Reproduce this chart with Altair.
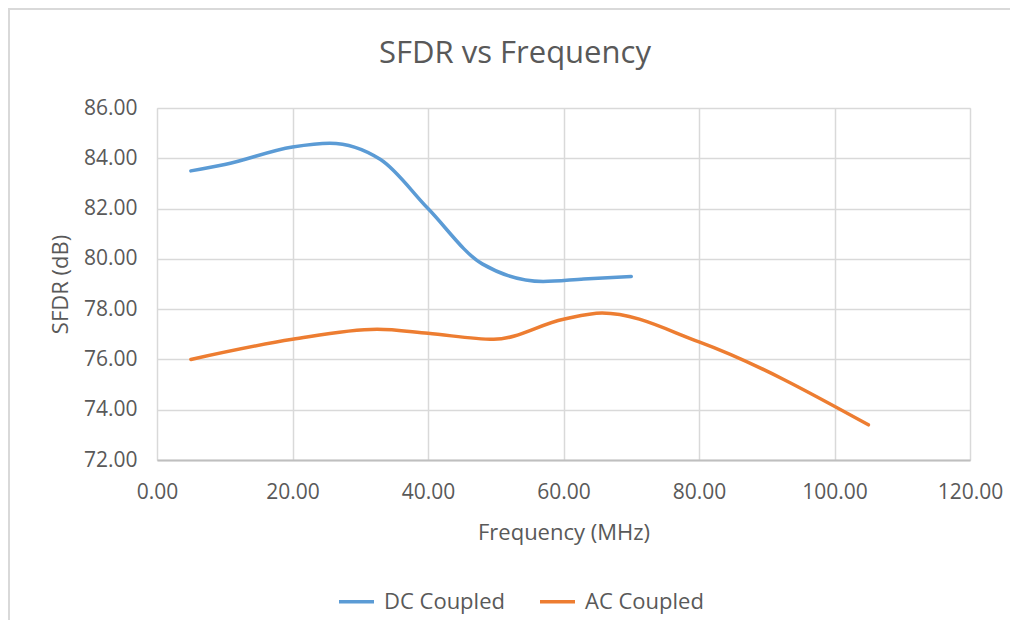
import altair as alt
import pandas as pd

# DC Coupled series (frequency MHz, SFDR dB)
dc_freq = [5, 10, 20, 25.5, 33, 40, 48, 57, 63, 70]
dc_sfdr = [83.5, 83.75, 84.45, 84.6, 83.95, 82.0, 79.8, 79.1, 79.2, 79.3]

# AC Coupled series
ac_freq = [5, 20, 32.5, 40, 49.7, 60, 65.7, 80, 105]
ac_sfdr = [76.0, 76.8, 77.2, 77.04, 76.8, 77.6, 77.85, 76.7, 73.4]

series_names = ["DC Coupled", "AC Coupled"]
series_colors = ["#5B9BD5", "#ED7D31"]

x_ticks = [0, 20, 40, 60, 80, 100, 120]
y_ticks = [72, 74, 76, 78, 80, 82, 84, 86]

rows = []
for i, (f, v) in enumerate(zip(dc_freq, dc_sfdr)):
    rows.append({"series": series_names[0], "freq": f, "sfdr": v, "order": i})
for i, (f, v) in enumerate(zip(ac_freq, ac_sfdr)):
    rows.append({"series": series_names[1], "freq": f, "sfdr": v, "order": i})
df = pd.DataFrame(rows)

FONT = "Open Sans"
TXT = "#595959"
W, H = 813, 352

lines = alt.Chart(df).mark_line(interpolate="monotone", strokeWidth=3.5, strokeCap="round").encode(
    x=alt.X("freq:Q",
            scale=alt.Scale(domain=[0, 120], nice=False, zero=False),
            axis=alt.Axis(values=x_ticks, format=".2f", title="Frequency (MHz)",
                          grid=True, gridColor="#D9D9D9", gridWidth=1.5,
                          domain=True, domainColor="#BFBFBF", domainWidth=2,
                          ticks=False, labelPadding=21, titlePadding=20,
                          labelFlush=False, labelOverlap=False,
                          labelFontSize=21, titleFontSize=22,
                          labelColor=TXT, titleColor=TXT, labelFont=FONT, titleFont=FONT,
                          titleFontWeight="normal")),
    y=alt.Y("sfdr:Q",
            scale=alt.Scale(domain=[72, 86], nice=False, zero=False),
            axis=alt.Axis(values=y_ticks, format=".2f", title="SFDR (dB)",
                          grid=True, gridColor="#D9D9D9", gridWidth=1.5,
                          domain=False, ticks=False, labelPadding=20, titlePadding=11,
                          labelFontSize=21, titleFontSize=22,
                          labelColor=TXT, titleColor=TXT, labelFont=FONT, titleFont=FONT,
                          titleFontWeight="normal")),
    color=alt.Color("series:N",
                    scale=alt.Scale(domain=series_names, range=series_colors),
                    legend=alt.Legend(title=None, orient="none", direction="horizontal",
                                      legendX=180, legendY=474,
                                      symbolType="stroke", symbolSize=1225,
                                      symbolStrokeWidth=3.5, labelFontSize=22,
                                      labelFont=FONT, labelColor=TXT,
                                      labelOffset=8, columnPadding=28)),
    detail="series:N",
    order="order:Q",
)

onerow = alt.Data(values=[{"a": 1}])
top_border = alt.Chart(onerow).mark_rule(color="#D9D9D9", strokeWidth=2).encode(
    x=alt.value(-149), x2=alt.value(W + 40), y=alt.value(-99)
)
left_border = alt.Chart(onerow).mark_rule(color="#D9D9D9", strokeWidth=2).encode(
    x=alt.value(-148), y=alt.value(-100), y2=alt.value(H + 160)
)
title = alt.Chart(onerow).mark_text(
    font=FONT, fontSize=31, color=TXT, align="center", baseline="alphabetic"
).encode(x=alt.value(358), y=alt.value(-45), text=alt.value("SFDR vs Frequency"))

chart = alt.layer(top_border, left_border, title, lines).properties(
    width=W, height=H,
    autosize=alt.AutoSizeParams(type="none"),
    padding={"left": 149, "top": 100, "right": 40, "bottom": 160},
).configure_view(stroke=None).configure(background="white")

chart.save("out.html", embed_options={"renderer": "svg", "actions": False})
